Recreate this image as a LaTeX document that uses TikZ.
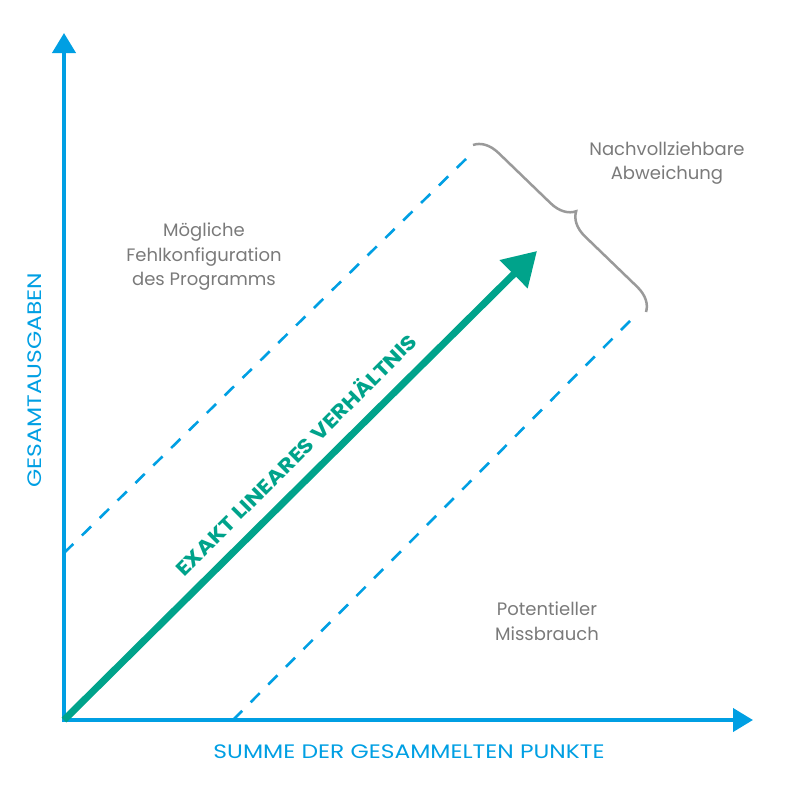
\documentclass[tikz,border=0pt]{standalone}
\usepackage{fontspec}
\setmainfont{Poppins}
\newfontfamily\breitschrift[FakeStretch=1.2]{Poppins}
\usepackage{tikz}
\usetikzlibrary{arrows.meta,positioning,calc,decorations.pathreplacing}
\usepackage{xcolor}
\definecolor{achsblau}{HTML}{009FE3}
\definecolor{linegruen}{HTML}{00A38B}
\definecolor{textgrau}{HTML}{7A7A7A}
\definecolor{klammergrau}{HTML}{9A9A9A}

\begin{document}
\begin{tikzpicture}[x=1pt, y=-1pt,
    achse/.style={achsblau, line width=4pt, -{Triangle[length=20pt,width=23pt]}},
    grenze/.style={achsblau, line width=2.6pt, dash pattern=on 13pt off 12pt},
    notiz/.style={textgrau, align=center, font=\fontsize{18}{24.5}\selectfont},
    achstext/.style={achsblau, font=\breitschrift\fontsize{19.5}{22}\selectfont}]
    \useasboundingbox (0,0) rectangle (800,788);

    % Achsen
    \coordinate (ursprung) at (64,720);
    \coordinate (yspitze) at (64,33);
    \coordinate (xspitze) at (753,720);
    \draw[achse] (64,722) -- (yspitze);
    \draw[achse] (62,720) -- (xspitze);
    \node[achstext] (xlabel) at (409,752) {SUMME DER GESAMMELTEN PUNKTE};
    \node[achstext, rotate=90] (ylabel) at (35,380) {GESAMTAUSGABEN};

    % Grenzlinien
    \coordinate (oben1) at (64,553);
    \coordinate (oben2) at (470,155);
    \coordinate (unten1) at (233,720);
    \coordinate (unten2) at (633,318);
    \draw[grenze] (oben1) -- (oben2);
    \draw[grenze] (unten1) -- (unten2);

    % exakt lineares Verhaeltnis
    \coordinate (spitze) at (537,251);
    \draw[linegruen, line width=7pt, -{Triangle[length=33pt,width=38pt]}] (ursprung) -- (spitze);
    \node[linegruen, rotate=45, xscale=1.15, font=\fontsize{20}{22}\selectfont\bfseries] (verhaeltnis) at (295,454) {EXAKT LINEARES VERHÄLTNIS};

    % Klammer
    \coordinate (klammer1) at (473,145);
    \coordinate (klammer2) at (646,312);
    \draw[klammergrau, line width=2.5pt, decorate, decoration={brace, amplitude=24pt}] (klammer1) -- (klammer2);

    % Beschriftungen
    \node[notiz] (fehlkonfig) at (204,257) {Mögliche\\Fehlkonfiguration\\des Programms};
    \node[notiz] (abweichung) at (667,163) {Nachvollziehbare\\Abweichung};
    \node[notiz] (missbrauch) at (547,621) {Potentieller\\Missbrauch};
\end{tikzpicture}
\end{document}
